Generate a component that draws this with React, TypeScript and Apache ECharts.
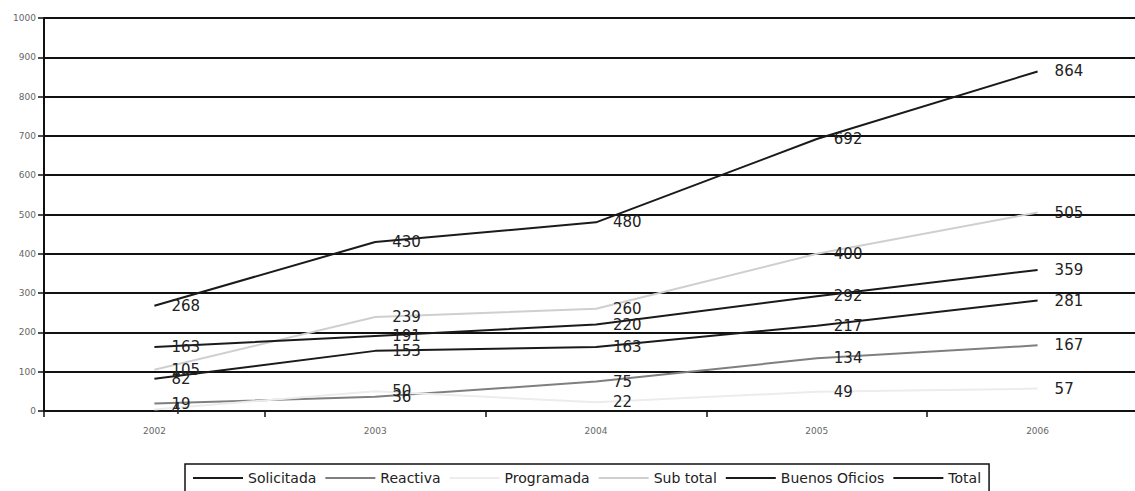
import React, { useEffect, useRef } from "react";
import * as echarts from "echarts";

const years = ["2002", "2003", "2004", "2005", "2006"];
const solicitada = [82, 153, 163, 217, 281];
const reactiva = [19, 36, 75, 134, 167];
const programada = [4, 50, 22, 49, 57];
const subTotal = [105, 239, 260, 400, 505];
const buenosOficios = [163, 191, 220, 292, 359];
const total = [268, 430, 480, 692, 864];

const seriesDefs = [
  { name: "Solicitada", data: solicitada, color: "#1a1a1a" },
  { name: "Reactiva", data: reactiva, color: "#7f7f7f" },
  { name: "Programada", data: programada, color: "#ececec" },
  { name: "Sub total", data: subTotal, color: "#cfcfcf" },
  { name: "Buenos Oficios", data: buenosOficios, color: "#1a1a1a" },
  { name: "Total", data: total, color: "#1a1a1a" },
];

export default function App() {
  const ref = useRef<HTMLDivElement>(null);
  useEffect(() => {
    if (!ref.current) return;
    const chart = echarts.init(ref.current, null, { renderer: "svg" });
    chart.setOption({
      animation: false,
      backgroundColor: "#ffffff",
      textStyle: { fontFamily: "DejaVu Sans" },
      grid: { left: 44, top: 18, bottom: 80, right: 8, containLabel: false },
      legend: {
        left: 185,
        top: 464,
        orient: "horizontal",
        itemWidth: 50,
        itemHeight: 2,
        itemGap: 9,
        icon: "rect",
        padding: [7, 8, 12, 8],
        borderColor: "#111",
        borderWidth: 1.5,
        textStyle: { fontFamily: "DejaVu Sans", fontSize: 14, color: "#222" },
        data: seriesDefs.map((s) => ({ name: s.name, itemStyle: { color: s.color } })),
      },
      xAxis: {
        type: "category",
        data: years,
        boundaryGap: true,
        axisLine: { lineStyle: { color: "#111", width: 2 } },
        axisTick: { show: true, length: 6, lineStyle: { color: "#111", width: 1.5 } },
        axisLabel: { color: "#666", fontSize: 9, margin: 15, fontFamily: "DejaVu Sans" },
        splitLine: { show: false },
      },
      yAxis: {
        type: "value",
        min: 0,
        max: 1000,
        interval: 100,
        axisLine: { show: true, lineStyle: { color: "#111", width: 2 } },
        axisTick: { show: true, length: 6, lineStyle: { color: "#111", width: 1.5 } },
        axisLabel: {
          color: "#666",
          fontSize: 9,
          margin: 8,
          fontFamily: "DejaVu Sans",
          formatter: (v: number) => String(v),
        },
        splitLine: { show: true, lineStyle: { color: "#111", width: 2 } },
      },
      series: seriesDefs.map((s) => ({
        name: s.name,
        type: "line",
        data: s.data,
        symbol: "circle",
        symbolSize: 0,
        showSymbol: true,
        lineStyle: { color: s.color, width: 2 },
        itemStyle: { color: s.color },
        label: {
          show: true,
          position: "right",
          distance: 17,
          fontSize: 15,
          color: "#222",
          fontFamily: "DejaVu Sans",
        },
      })),
    });
    return () => chart.dispose();
  }, []);
  return (
    <div style={{ position: "absolute", left: 0, top: 0, width: 1135, height: 491, overflow: "hidden" }}>
      <div ref={ref} style={{ width: 1156, height: 491 }} />
    </div>
  );
}
